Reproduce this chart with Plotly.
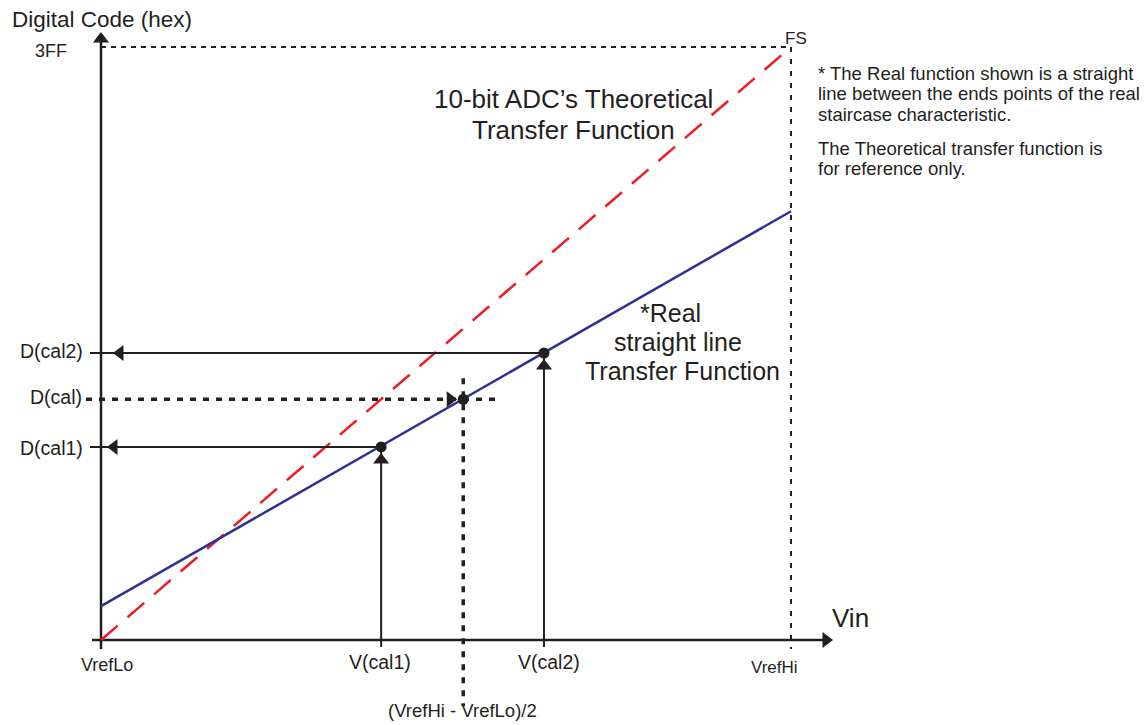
import plotly.graph_objects as go

# normalised values: Vin (0 = VrefLo, 1 = VrefHi), code (0 = 0, 1 = 3FF)
theory_vin = [0.0, 1.0]
theory_code = [0.0, 1.0]
real_vin = [0.0, 1.0]
real_code = [0.057, 0.723]

cal_labels = ["V(cal1)", "V(cal2)"]
cal_vin = [0.406, 0.642]
cal_code = [0.3255, 0.484]
dcal_labels = ["D(cal1)", "D(cal2)"]

mid_vin = 0.525
mid_code = 0.406

# page geometry (pixels of the 1148x725 picture)
W, H = 1148, 725
X0, Y0 = 101, 640
SX, SY = 690, 593
PAD = 8  # default body margin of the page

INK = "#231f20"
BLUE = "#2e3192"
RED = "#ed1c24"
FONT = "Liberation Sans, Arial, sans-serif"


def vx(px):
    return (px - X0) / SX


def cy(py):
    return (Y0 - py) / SY


def dx(p):
    return p / SX


def dy(p):
    return p / SY


fig = go.Figure()


def seg(xs, ys, color=INK, width=2, dash="solid"):
    fig.add_trace(go.Scatter(x=xs, y=ys, mode="lines", hoverinfo="skip",
                             line=dict(color=color, width=width, dash=dash)))


def tri(x, y, symbol):
    fig.add_trace(go.Scatter(x=[x], y=[y], mode="markers", hoverinfo="skip",
                             marker=dict(symbol=symbol, size=14, color=INK,
                                         line=dict(width=0))))


# axes
seg([0, 0], [-dy(9), cy(38)], width=2.5)
seg([-dx(9), vx(826)], [0, 0], width=2.5)
tri(0, cy(39), "triangle-up")
tri(vx(826), 0, "triangle-right")

# full-scale dashed box
seg([0, 1], [1, 1], width=2, dash="5px,5px")
seg([1, 1], [1, -dy(9)], width=2, dash="5px,7px")

# theoretical and real transfer functions
seg(theory_vin, theory_code, color=RED, width=2.5, dash="22px,13px")
seg(real_vin, real_code, color=BLUE, width=2.5)

# calibration points: vertical arrows up and horizontal arrows left
for v, c in zip(cal_vin, cal_code):
    seg([v, v], [-dy(7), c], width=2)
    seg([v, -dx(11)], [c, c], width=2)
    tri(v, c - dy(13), "triangle-up")
tri(dx(13), cal_code[0], "triangle-left")
tri(dx(19), cal_code[1], "triangle-left")

# mid-scale dotted lines
seg([-dx(15), mid_vin + dx(34)], [mid_code, mid_code], width=3.5, dash="6px,7px")
seg([mid_vin, mid_vin], [mid_code + dy(21), cy(706)], width=3.5, dash="6px,7px")
tri(mid_vin - dx(13), mid_code, "triangle-right")

fig.add_trace(go.Scatter(x=cal_vin + [mid_vin], y=cal_code + [mid_code],
                         mode="markers", hoverinfo="skip",
                         marker=dict(size=11, color=INK)))

anns = []


def label(text, px, py, size=17, xanchor="center"):
    anns.append(dict(text=text, x=vx(px), y=cy(py), xref="x", yref="y",
                     showarrow=False, xanchor=xanchor, yanchor="middle",
                     borderpad=0,
                     font=dict(family=FONT, size=size, color=INK)))


label("Digital Code (hex)", 11, 19, size=22.5, xanchor="left")
label("3FF", 68, 51, size=18, xanchor="right")
label("FS", 796, 38)
label("Vin", 831, 618, size=26, xanchor="left")
label("VrefLo", 107, 665, size=18)
label("VrefHi", 774, 667)
label(cal_labels[0], 380, 662, size=19.5)
label(cal_labels[1], 549, 662, size=19.5)
label("(VrefHi - VrefLo)/2", 462, 710, size=18.5)
label(dcal_labels[1], 84, 351, size=19.5, xanchor="right")
label("D(cal)", 83, 397, size=19.5, xanchor="right")
label(dcal_labels[0], 84, 448, size=19.5, xanchor="right")

label("10-bit ADC\u2019s Theoretical", 573, 99, size=26)
label("Transfer Function", 573, 130, size=26)
label("*Real", 670, 313, size=25)
label("straight line", 678, 342, size=25)
label("Transfer Function", 682, 371, size=25)

notes = [("* The Real function shown is a straight", 73),
         ("line between the ends points of the real", 93),
         ("staircase characteristic.", 114),
         ("The Theoretical transfer function is", 148),
         ("for reference only.", 168)]
for text, py in notes:
    label(text, 817, py, size=18.5, xanchor="left")

fig.update_layout(
    width=W, height=H,
    margin=dict(l=0, r=0, t=0, b=0),
    plot_bgcolor="white", paper_bgcolor="white",
    showlegend=False,
    annotations=anns,
    xaxis=dict(range=[vx(PAD), vx(W + PAD)], visible=False, fixedrange=True),
    yaxis=dict(range=[cy(H + PAD), cy(PAD)], visible=False, fixedrange=True),
)

fig.write_html("out.html")
